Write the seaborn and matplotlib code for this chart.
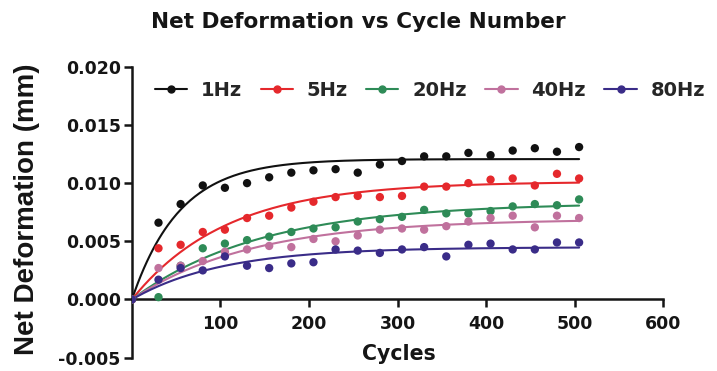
import numpy as np
import pandas as pd
import seaborn as sns
import matplotlib
matplotlib.use("Agg")
import matplotlib.pyplot as plt
from matplotlib.lines import Line2D

# ---- data ----
cycles = [0, 30, 55, 80, 105, 130, 155, 180, 205, 230, 255, 280, 305,
          330, 355, 380, 405, 430, 455, 480, 505]
series_names = ["1Hz", "5Hz", "20Hz", "40Hz", "80Hz"]
hz1 = [0, 0.0066, 0.0082, 0.0098, 0.0096, 0.0100, 0.0105, 0.0109, 0.0111, 0.0112,
       0.0109, 0.0116, 0.0119, 0.0123, 0.0123, 0.0126, 0.0124, 0.0128, 0.0130, 0.0127, 0.0131]
hz5 = [0, 0.0044, 0.0047, 0.0058, 0.0060, 0.0070, 0.0072, 0.0079, 0.0084, 0.0088,
       0.0089, 0.0088, 0.0089, 0.0097, 0.0097, 0.0100, 0.0103, 0.0104, 0.0098, 0.0108, 0.0104]
hz20 = [0, 0.0002, 0.0029, 0.0044, 0.0048, 0.0051, 0.0054, 0.0058, 0.0061, 0.0062,
        0.0067, 0.0069, 0.0071, 0.0077, 0.0074, 0.0074, 0.0076, 0.0080, 0.0082, 0.0081, 0.0086]
hz40 = [0, 0.0027, 0.0029, 0.0033, 0.0041, 0.0043, 0.0046, 0.0045, 0.0052, 0.0050,
        0.0055, 0.0060, 0.0061, 0.0060, 0.0063, 0.0067, 0.0070, 0.0072, 0.0062, 0.0072, 0.0070]
hz80 = [0, 0.0017, 0.0027, 0.0025, 0.0037, 0.0029, 0.0027, 0.0031, 0.0032, 0.0043,
        0.0042, 0.0040, 0.0043, 0.0045, 0.0037, 0.0047, 0.0048, 0.0043, 0.0043, 0.0049, 0.0049]
y_ticks = [-0.005, 0.000, 0.005, 0.010, 0.015, 0.020]
x_ticks = [100, 200, 300, 400, 500, 600]

colors = {"1Hz": "#111111", "5Hz": "#e5282c", "20Hz": "#2e8b57",
          "40Hz": "#c0719d", "80Hz": "#3a2c88"}

values = [hz1, hz5, hz20, hz40, hz80]
df = pd.concat([pd.DataFrame({"Cycles": cycles, "Def": v, "Freq": n})
                for n, v in zip(series_names, values)], ignore_index=True)


def fit_one_phase(x, y):
    """Least-squares fit of Y = Ymax*(1-exp(-k x)) from the data."""
    x = np.asarray(x, float)
    y = np.asarray(y, float)
    best = None
    for k in np.linspace(0.001, 0.1, 3000):
        b = 1 - np.exp(-k * x)
        a = (b @ y) / (b @ b)
        sse = np.sum((y - a * b) ** 2)
        if best is None or sse < best[0]:
            best = (sse, a, k)
    return best[1], best[2]


xs = np.linspace(0, max(cycles), 300)
fit_frames = []
for n, v in zip(series_names, values):
    a, k = fit_one_phase(cycles, v)
    fit_frames.append(pd.DataFrame({"Cycles": xs, "Def": a * (1 - np.exp(-k * xs)), "Freq": n}))
fits = pd.concat(fit_frames, ignore_index=True)

sns.set_theme(style="white")
plt.rcParams["font.family"] = ["DejaVu Sans"]
plt.rcParams["font.weight"] = "bold"
INK = "#151515"

fig = plt.figure(figsize=(7.17, 3.71), dpi=100)
ax = fig.add_axes([0.184, 0.036, 0.741, 0.784])

sns.lineplot(data=fits, x="Cycles", y="Def", hue="Freq", palette=colors,
             hue_order=series_names, linewidth=1.5, legend=False, ax=ax, sort=False)
sns.scatterplot(data=df, x="Cycles", y="Def", hue="Freq", palette=colors,
                hue_order=series_names, s=36, edgecolor="none", legend=False,
                ax=ax, zorder=3)

ax.set_xlim(0, 600)
ax.set_ylim(-0.005, 0.020)
ax.set_xticks(x_ticks)
ax.set_yticks(y_ticks)
ax.set_yticklabels([f"{t:.3f}" for t in y_ticks])
ax.spines["right"].set_visible(False)
ax.spines["top"].set_visible(False)
ax.spines["bottom"].set_position(("data", 0))
for s in ["left", "bottom"]:
    ax.spines[s].set_linewidth(1.8)
    ax.spines[s].set_color(INK)
ax.tick_params(axis="both", direction="out", length=6, width=1.8, color=INK,
               labelsize=12.5, labelcolor=INK, left=True, bottom=True, pad=2)
ax.tick_params(axis="x", pad=5)
for lab in ax.get_xticklabels() + ax.get_yticklabels():
    lab.set_fontweight("bold")

ax.set_xlabel("")
ax.set_ylabel("")
fig.text(399 / 717, 1 - 354 / 371, "Cycles", ha="center", va="center",
         fontsize=14.8, fontweight="bold", color=INK)
fig.text(27.5 / 717, 1 - 209 / 371, "Net Deformation (mm)", rotation=90,
         ha="center", va="center", fontsize=20, fontweight="bold", color=INK,
         family=["Liberation Sans", "DejaVu Sans"])
fig.text(0.5, 1 - 22 / 371, "Net Deformation vs Cycle Number", ha="center",
         va="center", fontsize=15.6, fontweight="bold", color=INK)

handles = [Line2D([0], [0], color=colors[n], lw=1.5, marker="o", markersize=5)
           for n in series_names]
fig.legend(handles, series_names, loc="center left",
           bbox_to_anchor=(155 / 717, 1 - 90 / 371), ncol=5, frameon=False,
           borderpad=0, borderaxespad=0, handlelength=1.65, handletextpad=0.72,
           columnspacing=0.95, prop={"size": 14, "weight": "bold"})

fig.savefig("out.png", dpi=100)
